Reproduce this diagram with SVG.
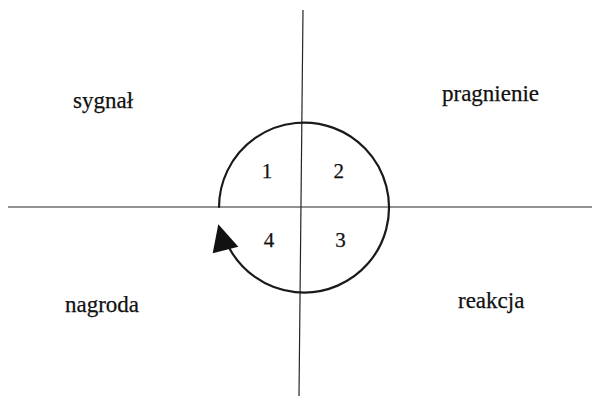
<svg xmlns="http://www.w3.org/2000/svg" width="592" height="402" viewBox="0 0 592 402">
<style>
.ax{stroke:#262626;stroke-width:1.2;fill:none}
.cyc{stroke:#1a1a1a;stroke-width:2.2;fill:none}
.lbl{font-family:"Liberation Serif","Times New Roman",serif;font-size:23px;fill:#111;stroke:#111;stroke-width:0.25}
.num{font-family:"Liberation Serif","Times New Roman",serif;font-size:21px;fill:#111;stroke:#111;stroke-width:0.25;text-anchor:middle}
</style>
<rect width="592" height="402" fill="#fff"/>
<g id="connectors">
<line class="ax" x1="303" y1="10" x2="299" y2="396"/>
<line class="ax" x1="8" y1="207" x2="592" y2="207"/>
<path class="cyc" d="M219,207.8 A85,85 0 1 1 229.5,248.5"/>
<polygon points="218.3,224.3 212.7,253.3 238.3,246.7" fill="#111"/>
</g>
<g id="sygnal"><text class="lbl" x="73" y="108.3">sygnał</text></g>
<g id="pragnienie"><text class="lbl" x="442" y="100.7">pragnienie</text></g>
<g id="nagroda"><text class="lbl" x="65" y="311.7">nagroda</text></g>
<g id="reakcja"><text class="lbl" x="458" y="308.3">reakcja</text></g>
<g id="q1"><text class="num" x="267" y="177.7">1</text></g>
<g id="q2"><text class="num" x="338.7" y="177.7">2</text></g>
<g id="q3"><text class="num" x="340.5" y="246.7">3</text></g>
<g id="q4"><text class="num" x="269" y="246.7">4</text></g>
</svg>
